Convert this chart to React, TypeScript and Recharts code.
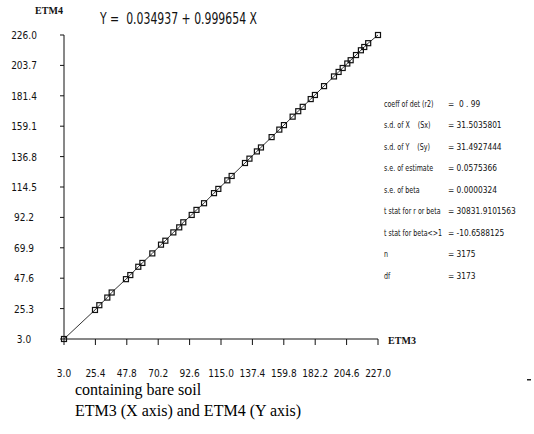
import React from 'react';
import { ScatterChart, Scatter, XAxis, YAxis } from 'recharts';

// ETM3 (x) vs ETM4 (y) sample pixels
const etm3 = [
  3.0, 25.1, 28.2, 33.9, 37.0, 47.2, 50.3, 56.0, 58.9, 66.0, 72.2, 75.3, 81.0, 85.2, 88.1,
  94.1, 97.5, 102.9, 110.0, 113.1, 119.5, 122.6, 132.1, 135.3, 140.6, 143.5, 151.1, 156.6,
  159.9, 166.1, 170.1, 173.3, 179.0, 182.0, 188.5, 195.6, 198.9, 201.8, 205.1, 207.5, 211.3,
  214.8, 217.2, 220.0, 227.0,
];
const etm4 = [
  3.0, 24.3, 27.8, 33.4, 37.1, 46.9, 49.9, 56.0, 58.8, 65.8, 72.2, 75.1, 81.2, 84.9, 88.6,
  94.0, 97.7, 102.6, 110.0, 113.1, 119.4, 122.6, 132.1, 135.3, 140.6, 143.5, 151.1, 156.6,
  159.9, 166.1, 170.1, 173.3, 179.0, 182.0, 188.5, 195.6, 198.9, 201.8, 205.1, 207.5, 211.3,
  214.8, 217.2, 220.0, 226.0,
];

const xTicks = [3.0, 25.4, 47.8, 70.2, 92.6, 115.0, 137.4, 159.8, 182.2, 204.6, 227.0];
const yTicks = [3.0, 25.3, 47.6, 69.9, 92.2, 114.5, 136.8, 159.1, 181.4, 203.7, 226.0];

const statLabels = [
  'coeff of det (r2)',
  's.d. of X    (Sx)',
  's.d. of Y    (Sy)',
  's.e. of estimate',
  's.e. of beta',
  't stat for r or beta',
  't stat for beta<>1',
  'n',
  'df',
];
const statValues = [
  '=  0 . 99',
  '= 31.5035801',
  '= 31.4927444',
  '= 0.0575366',
  '= 0.0000324',
  '= 30831.9101563',
  '= -10.6588125',
  '= 3175',
  '= 3173',
];

const title = 'Y =  0.034937 + 0.999654 X';
const caption = ['containing bare soil', 'ETM3 (X axis) and ETM4 (Y axis)'];

const points = etm3.map((x, i) => ({ x, y: etm4[i] }));

const NARROW = "'DejaVu Sans Condensed', 'Liberation Sans', sans-serif";

const Square = (props: any) => {
  const { cx, cy } = props;
  if (cx == null || cy == null) return null;
  return <rect x={cx - 2.5} y={cy - 2.5} width={5} height={5} fill="none" stroke="#111" strokeWidth={1.2} />;
};

const YTick = (props: any) => {
  const { y, payload } = props;
  return (
    <text x={24} y={y + 4} textAnchor="middle" fontSize={10} fontFamily={NARROW} fill="#111">
      {Number(payload.value).toFixed(1)}
    </text>
  );
};

const XTick = (props: any) => {
  const { x, payload } = props;
  return (
    <text x={x} y={377} textAnchor="middle" fontSize={10} fontFamily={NARROW} fill="#111">
      {Number(payload.value).toFixed(1)}
    </text>
  );
};

export default function App() {
  return (
    <div style={{ position: 'relative', width: 534, height: 434, background: '#fff' }}>
      <style>{'body{margin:0}'}</style>
      <ScatterChart width={534} height={434} margin={{ top: 35, left: 4, right: 156, bottom: 65 }}>
        <XAxis
          type="number"
          dataKey="x"
          domain={[3, 227]}
          ticks={xTicks}
          height={30}
          axisLine={{ stroke: '#111' }}
          tickLine={{ stroke: '#111' }}
          tickSize={6}
          tick={<XTick />}
          interval={0}
        />
        <YAxis
          type="number"
          dataKey="y"
          domain={[3, 226]}
          ticks={yTicks}
          width={60}
          axisLine={{ stroke: '#111' }}
          tickLine={{ stroke: '#111' }}
          tickSize={4}
          tick={<YTick />}
          interval={0}
        />
        <Scatter
          data={points}
          line={{ stroke: '#333', strokeWidth: 1 }}
          shape={<Square />}
          isAnimationActive={false}
        />
      </ScatterChart>
      <svg
        width={534}
        height={434}
        style={{ position: 'absolute', left: 0, top: 0, pointerEvents: 'none' }}
      >
        <text x={49} y={14} textAnchor="middle" fontSize={10} fontWeight="bold" fontFamily="'Liberation Serif', serif" fill="#111">
          ETM4
        </text>
        <text x={402} y={344} textAnchor="middle" fontSize={10} fontWeight="bold" fontFamily="'Liberation Serif', serif" fill="#111">
          ETM3
        </text>
        <text x={100} y={24} fontSize={15} fontFamily={NARROW} fill="#111" textLength={157} lengthAdjust="spacingAndGlyphs" style={{ whiteSpace: 'pre' }}>
          {title}
        </text>
        <g transform="translate(384,0) scale(0.74,1)">
          {statLabels.map((s, i) => (
            <text key={s} x={0} y={107 + i * 21.5} fontSize={9.5} fontFamily={NARROW} fill="#111" style={{ whiteSpace: 'pre' }}>
              {s}
            </text>
          ))}
        </g>
        <g transform="translate(448,0) scale(0.9,1)">
          {statValues.map((s, i) => (
            <text key={i} x={0} y={107 + i * 21.5} fontSize={9.2} fontFamily={NARROW} fill="#111" style={{ whiteSpace: 'pre' }}>
              {s}
            </text>
          ))}
        </g>
        {caption.map((s, i) => (
          <text key={s} x={75} y={395 + i * 21} fontSize={16} fontFamily="'Liberation Serif', 'Times New Roman', serif" fill="#000">
            {s}
          </text>
        ))}
        <rect x={527} y={379} width={4} height={1.5} fill="#222" />
      </svg>
    </div>
  );
}
